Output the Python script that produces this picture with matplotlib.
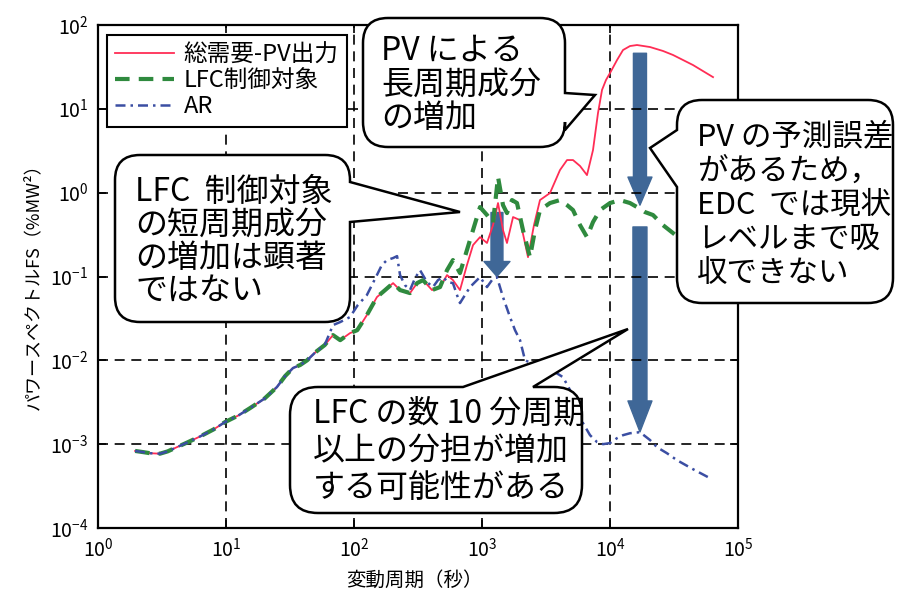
import matplotlib
matplotlib.use("Agg")
import matplotlib.pyplot as plt
import matplotlib.transforms as mtransforms
from matplotlib.path import Path
from matplotlib.patches import PathPatch, FancyArrowPatch

plt.rcParams['font.family'] = ['Noto Sans CJK JP', 'DejaVu Sans']
plt.rcParams['mathtext.fontset'] = 'custom'
plt.rcParams['mathtext.rm'] = 'Liberation Sans'
plt.rcParams['mathtext.it'] = 'Liberation Sans:italic'
plt.rcParams['axes.unicode_minus'] = False

# 変動周期 [s] とパワースペクトル [%MW^2]
# 短周期側は三系列ともほぼ同じ
low_period = [1.95, 2.3, 2.55, 3.05, 3.5, 4.0, 5.0, 6.3, 8.0, 9.8, 12.5, 15.4,
              20, 25, 29, 33.4, 38, 43, 50, 59]
low_power = [8.3e-4, 8.0e-4, 7.8e-4, 7.7e-4, 8.2e-4, 9.0e-4, 1.05e-3, 1.24e-3,
             1.5e-3, 1.83e-3, 2.2e-3, 2.69e-3, 3.5e-3, 4.8e-3, 6.5e-3, 8.1e-3,
             8.8e-3, 1.0e-2, 1.25e-2, 1.52e-2]

# 総需要-PV出力 と LFC制御対象 が重なる区間
mid_period = [68.5, 78, 93, 106, 126, 151, 175, 202, 229, 274, 311, 346, 407, 470]
mid_power = [0.0200, 0.0174, 0.0211, 0.0229, 0.0346, 0.0568, 0.0689, 0.0834,
             0.0689, 0.0634, 0.0834, 0.0906, 0.0689, 0.0748]

# 総需要-PV出力
net_period = [533, 593, 673, 763, 851, 965, 1094, 1219, 1334, 1459, 1567, 1748,
              1982, 2288, 2547, 2838, 3397, 4066, 4616, 5140, 5834, 6610, 7365,
              8057, 8664, 9306, 10000, 11350, 12640, 14330, 16250, 20540, 25940,
              31050, 44500, 63800]
net_power = [0.104, 0.0906, 0.0689, 0.137, 0.237, 0.295, 0.251, 0.410, 0.752,
             0.358, 0.251, 0.512, 0.471, 0.170, 0.410, 0.816, 0.99, 1.86, 2.45,
             2.45, 2.08, 1.62, 3.22, 8.9, 16.8, 22.1, 26.7, 38.2, 50.3, 56.1,
             57.7, 54.6, 49.0, 43.9, 33.3, 23.9]

# LFC制御対象
lfc_period = [533, 593, 673, 763, 851, 965, 1094, 1219, 1334, 1459, 1567, 1716,
              1877, 2090, 2371, 2595, 2838, 3397, 4066, 4616, 5140, 5834, 6610,
              7365, 8356, 10000, 11970, 14330, 16250, 18760, 21680, 25940,
              31050, 33980]
lfc_power = [0.119, 0.157, 0.110, 0.207, 0.358, 0.673, 0.541, 0.434, 1.54,
             0.711, 0.571, 0.816, 0.752, 0.358, 0.170, 0.358, 0.620, 0.752,
             0.816, 0.711, 0.620, 0.410, 0.295, 0.446, 0.620, 0.752, 0.816,
             0.752, 0.673, 0.587, 0.541, 0.410, 0.330, 0.295]

# AR
ar_period = [68.5, 78, 93, 107, 126, 138, 151, 165, 181, 202, 217, 229, 250,
             274, 300, 328, 372, 414, 453, 496, 542, 593, 638, 673, 736, 806,
             881, 965, 1094, 1197, 1309, 1459, 1655, 1811, 1982, 2168, 2595,
             3105, 3716, 4295, 4874, 5521, 6155, 6982, 7914, 8818, 10000,
             11350, 12640, 14330, 17140, 20540, 23280, 27860, 33370, 44500,
             60400]
ar_power = [0.0263, 0.0286, 0.0328, 0.0456, 0.060, 0.0789, 0.104, 0.137, 0.157,
            0.166, 0.175, 0.104, 0.0789, 0.0689, 0.0957, 0.119, 0.0857, 0.0748,
            0.0906, 0.0984, 0.0857, 0.0834, 0.060, 0.0482, 0.060, 0.0748,
            0.0857, 0.0984, 0.0748, 0.0906, 0.0984, 0.0568, 0.0328, 0.0229,
            0.0174, 0.01005, 0.00877, 0.00764, 0.00723, 0.0063, 0.00441,
            0.00269, 0.00178, 0.00128, 0.00106, 0.001, 0.00103, 0.00118,
            0.00128, 0.00135, 0.00139, 0.00112, 0.00092, 0.00078, 0.000644,
            0.000503, 0.000393]

series_labels = ['総需要-PV出力', 'LFC制御対象', 'AR']

W, H = 897, 596
fig = plt.figure(figsize=(W / 100, H / 100), dpi=100)
ax = fig.add_axes([98 / W, 68 / H, 640 / W, 503 / H])

ax.plot(low_period + mid_period + net_period, low_power + mid_power + net_power,
        color='#ff2d55', lw=1.3, label=series_labels[0])
ax.plot(low_period + mid_period + lfc_period, low_power + mid_power + lfc_power,
        color='#2f8a3e', lw=3.0, linestyle=(0, (3.5, 2.2)), label=series_labels[1])
ax.plot(low_period + ar_period, low_power + ar_power,
        color='#3b4ea3', lw=1.8, linestyle=(0, (4, 2, 1, 2)), label=series_labels[2])

ax.set_xscale('log')
ax.set_yscale('log')
ax.set_xlim(1, 1e5)
ax.set_ylim(1e-4, 1e2)
ax.minorticks_off()
ax.grid(True, which='major', color='black', linestyle=(0, (6, 4)), linewidth=1.2)
ax.tick_params(which='major', direction='in', length=6, width=1.2,
               top=True, right=True, labelsize=14, pad=7)
for sp in ax.spines.values():
    sp.set_linewidth(1.6)

# 吹き出しや軸ラベル用のピクセル座標 (左上原点)
pix = mtransforms.Affine2D().scale(1 / W, -1 / H).translate(0, 1) + fig.transFigure

fig.text(414, 580, '変動周期（秒）', transform=pix, ha='center', va='center',
         fontsize=14)
fig.text(33, 282, 'パワースペクトルFS（%MW²）', transform=pix, ha='center',
         va='center', rotation=90, fontsize=13)

leg = ax.legend(loc='upper left', bbox_to_anchor=(0.014, 0.980), borderaxespad=0,
                fontsize=17, fancybox=False, framealpha=1, edgecolor='black',
                handlelength=2.5, handletextpad=0.4, labelspacing=0.13,
                borderpad=0.35)
leg.get_frame().set_linewidth(1.5)

# 青い矢印 (周期, 始点, 終点, 軸幅px, 頭幅px, 頭長px)
arrows = [
    (1309, 0.58, 0.10, 12, 26, 15),
    (17140, 46, 0.71, 13, 24, 28),
    (17140, 0.39, 0.0014, 14, 24, 31),
]
unit = 10 * 100 / 72
for x, y0, y1, tw, hw, hl in arrows:
    style = 'simple,head_length=%.2f,head_width=%.2f,tail_width=%.2f' % (
        hl / unit, hw / unit, tw / unit)
    ax.add_patch(FancyArrowPatch((x, y0), (x, y1), arrowstyle=style,
                                 mutation_scale=10, color='#3f6797',
                                 shrinkA=0, shrinkB=0))


def bubble(x0, y0, x1, y1, side, base, tip, r=25):
    verts = [(x0 + r, y1)]
    codes = [Path.MOVETO]

    def line(p):
        verts.append(p)
        codes.append(Path.LINETO)

    def corner(c, p):
        verts.extend([c, p])
        codes.extend([Path.CURVE3, Path.CURVE3])

    line((x1 - r, y1))
    corner((x1, y1), (x1, y1 - r))
    if side == 'right':
        line((x1, base[0])); line(tip); line((x1, base[1]))
    line((x1, y0 + r))
    corner((x1, y0), (x1 - r, y0))
    if side == 'top':
        line((base[0], y0)); line(tip); line((base[1], y0))
    line((x0 + r, y0))
    corner((x0, y0), (x0, y0 + r))
    if side == 'left':
        line((x0, base[0])); line(tip); line((x0, base[1]))
    line((x0, y1 - r))
    corner((x0, y1), (x0 + r, y1))
    verts.append((x0 + r, y1))
    codes.append(Path.CLOSEPOLY)
    fig.add_artist(PathPatch(Path(verts, codes), facecolor='white',
                             edgecolor='black', lw=1.8, transform=pix, zorder=4))


def bubble_text(x, y0, pitch, lines, size=23):
    for i, s in enumerate(lines):
        fig.text(x, y0 + i * pitch, s, transform=pix, ha='left', va='center',
                 fontsize=size, zorder=5)


bubble(363, 18, 565, 147, 'right', (130, 93), (595, 95))
bubble_text(381, 51, 33.5, ['PV による', '長周期成分', 'の増加'])

bubble(115, 155, 350, 322, 'right', (222, 182), (460, 212))
bubble_text(135, 192, 33, ['LFC  制御対象', 'の短周期成分', 'の増加は顕著', 'ではない'])

bubble(677, 100, 893, 303, 'left', (130, 187), (650, 148))
bubble_text(697, 137, 34, ['PV の予測誤差', 'があるため，', 'EDC  では現状',
                           'レベルまで吸', '収できない'], size=22)

bubble(290, 387, 582, 513, 'top', (533, 463), (628, 329), r=28)
bubble_text(313, 414, 37, ['LFC の数 10 分周期', '以上の分担が増加', 'する可能性がある'])

fig.savefig('out.png', dpi=100)
